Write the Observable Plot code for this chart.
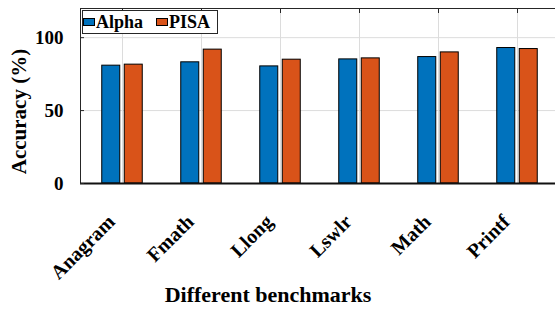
<!DOCTYPE html>
<html>
<head>
<meta charset="utf-8">
<script src="https://cdn.jsdelivr.net/npm/d3@7"></script>
<script src="https://cdn.jsdelivr.net/npm/@observablehq/plot@0.6"></script>
<style>
  html, body { margin: 0; padding: 0; background: #fff; }
  #wrap { position: relative; width: 555px; height: 309px; overflow: hidden; }
  #legend {
    position: absolute; left: 82px; top: 10px; width: 134px; height: 22px;
    border: 1px solid #262626; background: #fff;
    font-family: "Liberation Serif", serif; font-weight: bold; font-size: 18px;
    display: flex; align-items: center; white-space: nowrap; line-height: 1;
  }
  .sw { display: inline-block; width: 10px; height: 6px; border: 1px solid #000; margin-right: 1px; }
  .title { position: absolute; font-family: "Liberation Serif", serif; font-weight: bold; color: #000; white-space: nowrap; text-align: center; }
  #xtitle { left: 118px; width: 300px; top: 283.5px; font-size: 22px; line-height: 22px; }
  #ytitle { left: -81px; width: 200px; top: 100.5px; font-size: 21px; line-height: 21px; transform: rotate(-90deg); transform-origin: 100px 10.5px; }
</style>
</head>
<body>
<div id="wrap">
  <div id="chart"></div>
  <div id="legend">
    <span class="sw" style="background:#0072BD"></span><span>Alpha</span>
    <span class="sw" style="background:#D95319;margin-left:13px"></span><span>PISA</span>
  </div>
  <div class="title" id="xtitle">Different benchmarks</div>
  <div class="title" id="ytitle">Accuracy (%)</div>
</div>
<script>
const categories = ["Anagram", "Fmath", "Llong", "Lswlr", "Math", "Printf"];
const series = ["Alpha", "PISA"];
const alphaValues = [80.8, 83.1, 80.3, 85.1, 86.7, 92.9];
const pisaValues = [81.5, 91.8, 84.9, 85.8, 89.9, 92.2];
const yTicks = [0, 50, 100];
const colors = ["#0072BD", "#D95319"];

const alphaData = categories.map((c, i) => ({category: c, value: alphaValues[i]}));
const pisaData = categories.map((c, i) => ({category: c, value: pisaValues[i]}));

const font = "Liberation Serif";
const chart = Plot.plot({
  width: 555,
  height: 309,
  marginLeft: 80,
  marginRight: -4,
  marginTop: 8,
  marginBottom: 126,
  style: {fontFamily: font, fontWeight: "bold", background: "white", color: "#000"},
  x: {type: "band", domain: categories, paddingInner: 0.77, paddingOuter: 0.385},
  y: {domain: [0, 120]},
  marks: [
    Plot.gridY(yTicks, {stroke: "#dcdcdc", strokeOpacity: 1}),
    Plot.gridX({stroke: "#dcdcdc", strokeOpacity: 1}),
    Plot.barY(alphaData, {x: "category", y: "value", fill: colors[0], stroke: "#000", strokeWidth: 1, dx: -11.25}),
    Plot.barY(pisaData, {x: "category", y: "value", fill: colors[1], stroke: "#000", strokeWidth: 1, dx: 11.25}),
    Plot.frame({stroke: "#262626", strokeWidth: 1}),
    Plot.ruleY([0], {stroke: "#111", strokeWidth: 2}),
    Plot.axisX({anchor: "top", tickSize: -4, tickFormat: () => "", label: null, stroke: "#262626"}),
    Plot.axisY(yTicks, {anchor: "left", tickSize: -4, tickFormat: () => "", label: null, stroke: "#262626"}),
    Plot.axisY(yTicks, {anchor: "right", tickSize: -4, tickFormat: () => "", label: null, stroke: "#262626"}),
    Plot.axisY(yTicks, {anchor: "left", tickSize: 0, tickPadding: 17, fontSize: 19, fill: "#000", label: null}),
    Plot.axisX({anchor: "bottom", tickSize: 0, tickRotate: -45, tickPadding: 8, fontSize: 20, fill: "#000",
      label: null, dx: -11, dy: 27})
  ]
});
document.getElementById("chart").appendChild(chart);
</script>
</body>
</html>
